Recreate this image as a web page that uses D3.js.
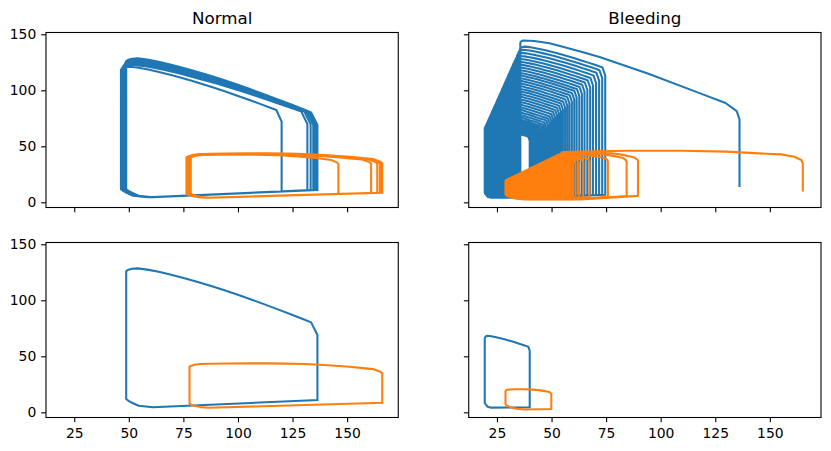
<!DOCTYPE html>
<html><head><meta charset="utf-8">
<script src="https://cdn.jsdelivr.net/npm/d3@7"></script>
<style>body{margin:0;background:#fff}svg{display:block}text{font-family:"DejaVu Sans",sans-serif}</style>
</head><body><svg id="c" width="831" height="451"></svg>
<script>
// ---------- data ----------
const titles = ["Normal", "Bleeding"];
const xTicks = [25, 50, 75, 100, 125, 150];
const yTicks = [0, 50, 100, 150];

// Normal – LV (blue), one entry per beat
const nLvEsv = [46.4, 47.0, 47.5, 47.9, 48.2, 48.4, 48.6, 48.7, 48.8, 48.8, 48.8, 48.8];
const nLvEdv = [120.0, 131.8, 133.3, 134.5, 135.2, 135.7, 136.0, 136.2, 136.3, 136.4, 136.4, 136.4];
const nLvPtop = [121.0, 122.8, 124.3, 125.3, 126.2, 126.9, 127.4, 127.8, 128.1, 128.3, 128.5, 128.5];
const nLvPcorner = [82.4, 81.0, 80.8, 80.6, 80.5, 80.4, 80.4, 80.3, 80.3, 80.3, 80.3, 80.3];
const nLvPopen = [72.0, 70.0, 69.6, 69.3, 69.2, 69.1, 69.0, 69.0, 69.0, 69.0, 69.0, 69.0];
const nLvEdp = [10.4, 10.8, 10.9, 11.0, 11.0, 11.0, 11.0, 11.0, 11.0, 11.0, 11.0, 11.0];
const nLvPmin = 4.5;

// Normal – RV (orange)
const nRvEsv = [78.4, 76.4, 76.8, 77.1, 77.4, 77.6, 77.7, 77.8, 77.8, 77.8, 77.8, 77.8];
const nRvEdv = [146.0, 161.0, 163.8, 165.0, 165.5, 165.8, 166.0, 166.1, 166.1, 166.1, 166.1, 166.1];
const nRvPtop = [40.6, 41.0, 41.2, 41.4, 41.5, 41.6, 41.6, 41.6, 41.6, 41.6, 41.6, 41.6];
const nRvPcorner = [37.8, 38.2, 38.4, 38.5, 38.6, 38.6, 38.6, 38.6, 38.6, 38.6, 38.6, 38.6];
const nRvPopen = [34.2, 34.4, 34.6, 34.7, 34.8, 34.8, 34.8, 34.8, 34.8, 34.8, 34.8, 34.8];
const nRvEdp = [8.0, 8.3, 8.5, 8.6, 8.6, 8.6, 8.6, 8.6, 8.6, 8.6, 8.6, 8.6];
const nRvPmin = 4.1;

// Bleeding – LV first (transient) beat
const bLvInitV = [136.1, 136.1, 134.8, 129.7, 117.8, 94.4, 72.0, 64.4, 56.0, 49.1, 42.0, 37.0, 35.9, 35.7];
const bLvInitP = [14.6, 74.0, 81.5, 88.7, 97.5, 114.8, 129.7, 134.0, 138.5, 142.0, 144.0, 144.5, 143.5, 142.0];
// Bleeding – LV following beats
const bLvEsv = [35.45, 34.8, 34.2, 33.6, 33.0, 32.4, 31.9, 31.35, 30.8, 30.3, 29.85, 29.35, 28.9, 28.4, 27.9, 27.4, 27.0, 26.5, 26.0, 25.5,
  25.05, 24.6, 24.1, 23.6, 23.2, 22.7, 22.3, 21.9, 21.5, 21.1, 20.8, 20.5, 20.2, 20.0, 19.8, 19.65, 19.55, 19.45, 19.4, 19.4];
const bLvEdv = [74.6, 73.2, 71.8, 70.4, 69.0, 67.7, 66.4, 65.1, 63.9, 62.7, 61.5, 60.4, 59.3, 58.2, 57.2, 56.2, 55.2, 54.3, 53.4, 52.5,
  51.6, 50.8, 50.0, 49.2, 48.4, 47.6, 46.9, 46.2, 45.5, 44.8, 44.1, 43.5, 42.9, 42.4, 41.9, 41.4, 41.0, 40.6, 40.3, 40.0];
const bLvPtop = [139.0, 136.2, 133.4, 130.7, 128.1, 125.7, 123.3, 121.0, 118.7, 116.5, 114.4, 112.2, 110.1, 108.0, 105.8, 103.7, 101.6, 99.5, 97.4, 95.3,
  93.2, 91.1, 89.0, 87.0, 85.0, 83.0, 81.1, 79.3, 77.6, 76.0, 74.5, 73.2, 72.0, 71.0, 70.2, 69.5, 69.0, 68.7, 68.5, 68.4];
const bLvPcorner = [120.4, 118.0, 115.6, 113.3, 111.0, 109.0, 106.9, 105.0, 103.0, 101.1, 99.4, 97.5, 95.7, 93.9, 91.9, 90.0, 88.2, 86.3, 84.4, 82.5,
  80.6, 78.6, 76.7, 74.8, 73.0, 71.2, 69.4, 67.7, 66.2, 64.7, 63.4, 62.2, 61.2, 60.3, 59.7, 59.2, 58.9, 58.7, 58.6, 58.6];
const bLvPopen = [113.2, 110.9, 108.7, 106.5, 104.3, 102.5, 100.5, 98.7, 96.8, 95.0, 93.4, 91.7, 90.0, 88.3, 86.4, 84.6, 82.9, 81.1, 79.3, 77.6,
  75.8, 73.9, 72.1, 70.3, 68.6, 66.9, 65.2, 63.6, 62.2, 60.8, 59.6, 58.5, 57.5, 56.7, 56.1, 55.6, 55.4, 55.2, 55.1, 55.1];
const bLvEdp = [6.8, 6.7, 6.6, 6.5, 6.4, 6.3, 6.2, 6.1, 6.0, 5.9, 5.8, 5.7, 5.6, 5.5, 5.4, 5.3, 5.2, 5.1, 5.0, 5.0,
  4.9, 4.9, 4.8, 4.8, 4.7, 4.7, 4.7, 4.6, 4.6, 4.6, 4.6, 4.5, 4.5, 4.5, 4.5, 4.5, 4.5, 4.5, 4.5, 4.5];
const bLvPmin = 4.2;

// Bleeding – RV first (transient) beat
const bRvInitV = [165.1, 165.1, 164.4, 161.3, 155.2, 148.3, 130.0, 109.4, 85.0, 65.0, 56.0, 54.8, 54.5];
const bRvInitP = [10.7, 34.8, 37.8, 40.7, 42.8, 43.4, 45.3, 46.1, 46.0, 45.4, 44.9, 44.6, 43.8];
// Bleeding – RV following beats
const bRvEsv = [53.5, 52.5, 51.6, 50.7, 49.7, 48.8, 48.1, 47.2, 46.4, 45.6, 44.9, 44.2, 43.5, 42.7, 41.9, 41.2, 40.6, 39.8, 39.0, 38.2,
  37.6, 36.9, 36.1, 35.3, 34.7, 34.0, 33.4, 32.7, 32.1, 31.5, 31.0, 30.6, 30.1, 29.8, 29.5, 29.3, 29.1, 29.0, 28.9, 28.9];
const bRvEdv = [89.6, 84.4, 75.8, 67.4, 64.5, 62.5, 61.0, 59.8, 58.8, 57.9, 57.1, 56.4, 55.8, 55.2, 54.7, 54.2, 53.8, 53.4, 53.0, 52.7,
  52.4, 52.1, 51.8, 51.6, 51.4, 51.2, 51.0, 50.8, 50.7, 50.6, 50.5, 50.4, 50.3, 50.2, 50.1, 50.05, 50.0, 49.95, 49.9, 49.9];
const bRvPtop = [43.0, 42.0, 41.2, 40.3, 39.4, 38.5, 37.8, 37.0, 36.2, 35.5, 34.8, 34.1, 33.5, 32.7, 32.0, 31.3, 30.7, 30.0, 29.2, 28.4,
  27.9, 27.2, 26.4, 25.7, 25.1, 24.4, 23.9, 23.2, 22.6, 22.1, 21.6, 21.2, 20.7, 20.5, 20.2, 20.0, 19.8, 19.7, 19.6, 19.6];
const bRvPcorner = [40.1, 39.5, 39.3, 39.0, 38.2, 37.4, 36.8, 36.0, 35.2, 34.5, 33.8, 33.1, 32.5, 31.7, 31.0, 30.3, 29.6, 28.9, 28.1, 27.2,
  26.7, 26.0, 25.1, 24.4, 23.8, 23.0, 22.5, 21.8, 21.1, 20.6, 20.0, 19.6, 19.1, 18.9, 18.6, 18.4, 18.3, 18.2, 18.2, 18.2];
const bRvPopen = [37.0, 36.5, 36.6, 36.5, 35.8, 35.0, 34.4, 33.6, 32.8, 32.1, 31.4, 30.7, 30.1, 29.3, 28.6, 27.9, 27.2, 26.5, 25.7, 24.8,
  24.3, 23.5, 22.6, 21.9, 21.3, 20.5, 20.0, 19.3, 18.5, 18.0, 17.4, 17.0, 16.6, 16.5, 16.4, 16.3, 16.3, 16.3, 16.3, 16.3];
const bRvEdp = [5.8, 5.6, 5.2, 4.8, 4.5, 4.3, 4.1, 4.0, 3.9, 3.8, 3.7, 3.6, 3.5, 3.5, 3.4, 3.4, 3.3, 3.3, 3.3, 3.2,
  3.2, 3.2, 3.1, 3.1, 3.1, 3.1, 3.0, 3.0, 3.0, 3.0, 3.0, 3.0, 3.0, 3.0, 3.0, 3.0, 3.0, 3.0, 3.0, 3.0];
const bRvPmin = 2.5;

// ---------- loop shapes (fractions of stroke volume / pressure drop) ----------
const LV_TOP = [[0.93, 0.947], [0.87, 0.863], [0.80, 0.768], [0.72, 0.662], [0.65, 0.571], [0.58, 0.485], [0.51, 0.402],
  [0.44, 0.323], [0.37, 0.248], [0.30, 0.178], [0.23, 0.113], [0.17, 0.064], [0.11, 0.023], [0.06, 0]];
const RV_TOP = [[0.90, 0.7], [0.83, 0.3], [0.72, -0.15], [0.6, -0.5], [0.5, -0.64], [0.4, -0.7], [0.3, -0.7], [0.2, -0.68],
  [0.11, -0.6], [0.055, -0.5], [0.025, -0.3], [0.01, 0]];

function lvCycle(e, d, pt, pc, po, ed) {
  const sv = d - e, D = pt - pc;
  const pts = [[d, ed], [d, po], [d - 0.033 * sv, pc]];
  for (const [f, g] of LV_TOP) pts.push([e + f * sv, pt - g * D]);
  pts.push([e + 0.03 * sv, pt - 0.4], [e + 0.012 * sv, pt - 1.2], [e, pt - 2.5]);
  return pts;
}
function lvFill(e, pmin, nd, ned) {
  const sv = nd - e, h = 3.5 + 0.045 * sv;
  return [[e, pmin + h], [e + 0.012 * sv, pmin + 0.78 * h], [e + 0.03 * sv, pmin + 0.55 * h], [e + 0.065 * sv, pmin + 0.19 * h],
    [e + 0.14 * sv, pmin], [nd, ned]];
}
function rvCycle(e, d, pt, pc, po, ed) {
  const sv = d - e, D = pt - pc;
  const pts = [[d, ed], [d, po], [d - 0.01 * sv, po + 0.4 * (pc - po)], [d - 0.048 * sv, pc]];
  for (const [f, g] of RV_TOP) pts.push([e + f * sv, pt - g * D]);
  pts.push([e, pt - 0.8]);
  return pts;
}
function rvFill(e, pmin, nd, ned) {
  const sv = nd - e, h = 5 - 0.012 * sv;
  return [[e, pmin + h], [e + 0.6, pmin + 0.7 * h], [e + 2.2, pmin + 0.45 * h], [e + 5, pmin + 0.15 * h], [e + 9, pmin], [nd, ned]];
}

function buildSeries(cycle, fill, esv, edv, ptop, pc, po, edp, pmin, initV, initP, lastOnly) {
  let pts = [];
  const start = lastOnly ? esv.length - 1 : 0;
  if (initV && !lastOnly) {
    pts = initV.map((v, i) => [v, initP[i]]);
    pts = pts.concat(fill(initV[initV.length - 1], pmin, edv[0], edp[0]));
  }
  for (let k = start; k < esv.length; k++) {
    pts = pts.concat(cycle(esv[k], edv[k], ptop[k], pc[k], po[k], edp[k]));
    const n = (k + 1 < esv.length) ? k + 1 : k;
    pts = pts.concat(fill(esv[k], pmin, edv[n], edp[n]));
  }
  return pts.filter((d, i) => i === 0 || d[0] !== pts[i - 1][0] || d[1] !== pts[i - 1][1]);
}

const panels = [
  { r: 0, c: 0, series: [
    buildSeries(lvCycle, lvFill, nLvEsv, nLvEdv, nLvPtop, nLvPcorner, nLvPopen, nLvEdp, nLvPmin, null, null, false),
    buildSeries(rvCycle, rvFill, nRvEsv, nRvEdv, nRvPtop, nRvPcorner, nRvPopen, nRvEdp, nRvPmin, null, null, false)] },
  { r: 0, c: 1, series: [
    buildSeries(lvCycle, lvFill, bLvEsv, bLvEdv, bLvPtop, bLvPcorner, bLvPopen, bLvEdp, bLvPmin, bLvInitV, bLvInitP, false),
    buildSeries(rvCycle, rvFill, bRvEsv, bRvEdv, bRvPtop, bRvPcorner, bRvPopen, bRvEdp, bRvPmin, bRvInitV, bRvInitP, false)] },
  { r: 1, c: 0, series: [
    buildSeries(lvCycle, lvFill, nLvEsv, nLvEdv, nLvPtop, nLvPcorner, nLvPopen, nLvEdp, nLvPmin, null, null, true),
    buildSeries(rvCycle, rvFill, nRvEsv, nRvEdv, nRvPtop, nRvPcorner, nRvPopen, nRvEdp, nRvPmin, null, null, true)] },
  { r: 1, c: 1, series: [
    buildSeries(lvCycle, lvFill, bLvEsv, bLvEdv, bLvPtop, bLvPcorner, bLvPopen, bLvEdp, bLvPmin, null, null, true),
    buildSeries(rvCycle, rvFill, bRvEsv, bRvEdv, bRvPtop, bRvPcorner, bRvPopen, bRvEdp, bRvPmin, null, null, true)] }
];
const colors = ["#1f77b4", "#ff7f0e"];

// ---------- layout ----------
const cols = [[46, 398.27], [468.73, 821]];
const rows = [[32.5, 207.5], [242.5, 417.5]];

const all = panels.flatMap(p => p.series.flat());
const [xmn, xmx] = d3.extent(all, d => d[0]);
const [ymn, ymx] = d3.extent(all, d => d[1]);
const xm = (xmx - xmn) * 0.05, ym = (ymx - ymn) * 0.05;
const xDom = [xmn - xm, xmx + xm], yDom = [ymn - ym, ymx + ym];

const svg = d3.select("#c");
const TL = 4.86, FS = 13.9;

panels.forEach(p => {
  const [x0, x1] = cols[p.c], [y0, y1] = rows[p.r];
  const x = d3.scaleLinear().domain(xDom).range([x0, x1]);
  const y = d3.scaleLinear().domain(yDom).range([y1, y0]);
  const g = svg.append("g");
  const clipId = `clip${p.r}${p.c}`;
  g.append("clipPath").attr("id", clipId).append("rect")
    .attr("x", x0).attr("y", y0).attr("width", x1 - x0).attr("height", y1 - y0);
  const line = d3.line().x(d => x(d[0])).y(d => y(d[1]));
  p.series.forEach((s, i) => {
    g.append("path").attr("d", line(s)).attr("fill", "none")
      .attr("stroke", colors[i]).attr("stroke-width", 2.08)
      .attr("stroke-linejoin", "round").attr("stroke-linecap", "square")
      .attr("clip-path", `url(#${clipId})`);
  });
  const ax = d3.axisBottom(x).tickValues(xTicks).tickSize(TL).tickPadding(5.7)
    .tickFormat(p.r === 1 ? d3.format("d") : () => "");
  const gx = g.append("g").attr("transform", `translate(0,${y1})`).call(ax);
  const ay = d3.axisLeft(y).tickValues(yTicks).tickSize(TL).tickPadding(4.86)
    .tickFormat(p.c === 0 ? d3.format("d") : () => "");
  const gy = g.append("g").attr("transform", `translate(${x0},0)`).call(ay);
  [gx, gy].forEach(a => {
    a.select(".domain").remove();
    a.selectAll("line").attr("stroke", "#000").attr("stroke-width", 1.1);
    a.selectAll("text").attr("fill", "#000").style("font-size", FS + "px").style("font-family", "DejaVu Sans");
  });
  g.append("rect").attr("x", x0).attr("y", y0).attr("width", x1 - x0).attr("height", y1 - y0)
    .attr("fill", "none").attr("stroke", "#000").attr("stroke-width", 1.1);
  if (p.r === 0) {
    g.append("text").attr("x", (x0 + x1) / 2).attr("y", y0 - 8.3)
      .attr("text-anchor", "middle").style("font-size", "16.7px").attr("fill", "#000")
      .text(titles[p.c]);
  }
});
</script></body></html>
